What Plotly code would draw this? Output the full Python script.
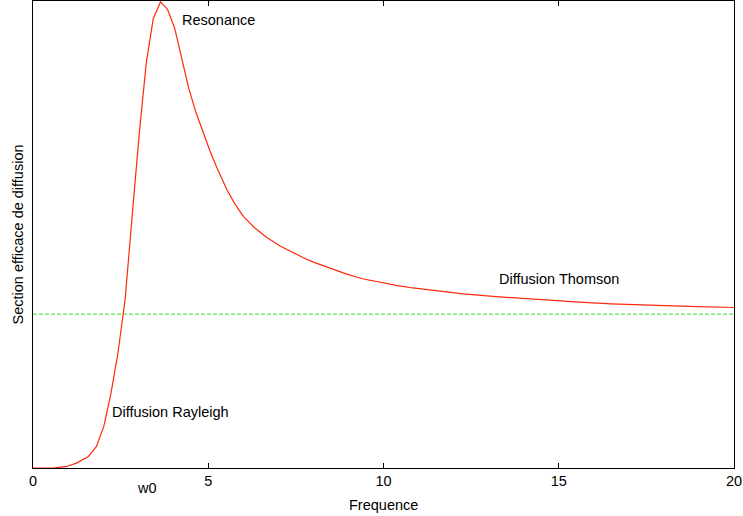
import plotly.graph_objects as go

freq = [0.0, 0.3, 0.58, 0.96, 1.24, 1.58, 1.81, 2.02, 2.22, 2.42, 2.63, 2.83, 3.03,
        3.23, 3.43, 3.64, 3.84, 4.04, 4.24, 4.44, 4.65, 4.85, 5.05, 5.25, 5.53,
        5.75, 6.0, 6.33, 6.67, 7.05, 7.42, 7.7, 8.0, 8.5, 8.95, 9.4, 9.9, 10.4,
        10.84, 11.5, 12.27, 13.3, 14.07, 14.8, 15.59, 16.5, 17.5, 18.7, 20.0]
sigma = [0.0, 0.0, 0.0, 0.01, 0.032, 0.075, 0.14, 0.27, 0.48, 0.74, 1.1, 1.64, 2.17,
         2.63, 2.92, 3.03, 2.98, 2.86, 2.66, 2.47, 2.31, 2.18, 2.06, 1.95, 1.81,
         1.72, 1.635, 1.56, 1.498, 1.443, 1.398, 1.368, 1.338, 1.295, 1.26, 1.23, 1.205, 1.185,
         1.17, 1.15, 1.131, 1.112, 1.10, 1.089, 1.078, 1.067, 1.058, 1.05, 1.043]
thomson_level = 1.0
x_ticks = [0, 5, 10, 15, 20]

FONT = "Liberation Sans, Arial, Helvetica, sans-serif"
FS = 14.5

fig = go.Figure()
fig.add_trace(go.Scatter(x=[0, 20], y=[thomson_level, thomson_level], mode="lines",
                         line=dict(color="#33dd33", width=1, dash="4px,2px"),
                         hoverinfo="skip", showlegend=False))
fig.add_trace(go.Scatter(x=freq, y=sigma, mode="lines",
                         line=dict(color="#ff2a0a", width=1.2),
                         showlegend=False))

fig.update_layout(
    width=743, height=516,
    margin=dict(l=33, r=9, t=1, b=48),
    plot_bgcolor="white", paper_bgcolor="white",
    font=dict(family=FONT, size=FS, color="black"),
    xaxis=dict(range=[0, 20], tickvals=x_ticks, ticktext=[str(v) for v in x_ticks],
               ticks="inside", ticklen=5, tickcolor="black", tickwidth=1,
               showline=True, linecolor="black", linewidth=1, mirror="ticks",
               showgrid=False, zeroline=False, tickfont=dict(size=FS)),
    yaxis=dict(range=[0, 3.035], showticklabels=False, ticks="",
               showline=True, linecolor="black", linewidth=1, mirror=True,
               showgrid=False, zeroline=False),
    annotations=[
        dict(text="Resonance", x=4.2, y=2.91, xref="x", yref="y", showarrow=False,
             xanchor="left", yanchor="middle", font=dict(size=FS)),
        dict(text="Diffusion Rayleigh", x=2.2, y=0.365, xref="x", yref="y", showarrow=False,
             xanchor="left", yanchor="middle", font=dict(size=FS)),
        dict(text="Diffusion Thomson", x=13.23, y=1.23, xref="x", yref="y", showarrow=False,
             xanchor="left", yanchor="middle", font=dict(size=FS)),
        dict(text="w0", x=3.25, y=-20 / 467, xref="x", yref="paper", showarrow=False,
             xanchor="center", yanchor="middle", font=dict(size=FS)),
        dict(text="Frequence", x=0.5, y=-37 / 467, xref="paper", yref="paper", showarrow=False,
             xanchor="center", yanchor="middle", font=dict(size=FS)),
        dict(text="Section efficace de diffusion", x=-16 / 701, y=0.5, xref="paper", yref="paper",
             showarrow=False, textangle=-90, xanchor="center", yanchor="middle",
             font=dict(size=FS)),
    ],
)

fig.write_html("out.html")
